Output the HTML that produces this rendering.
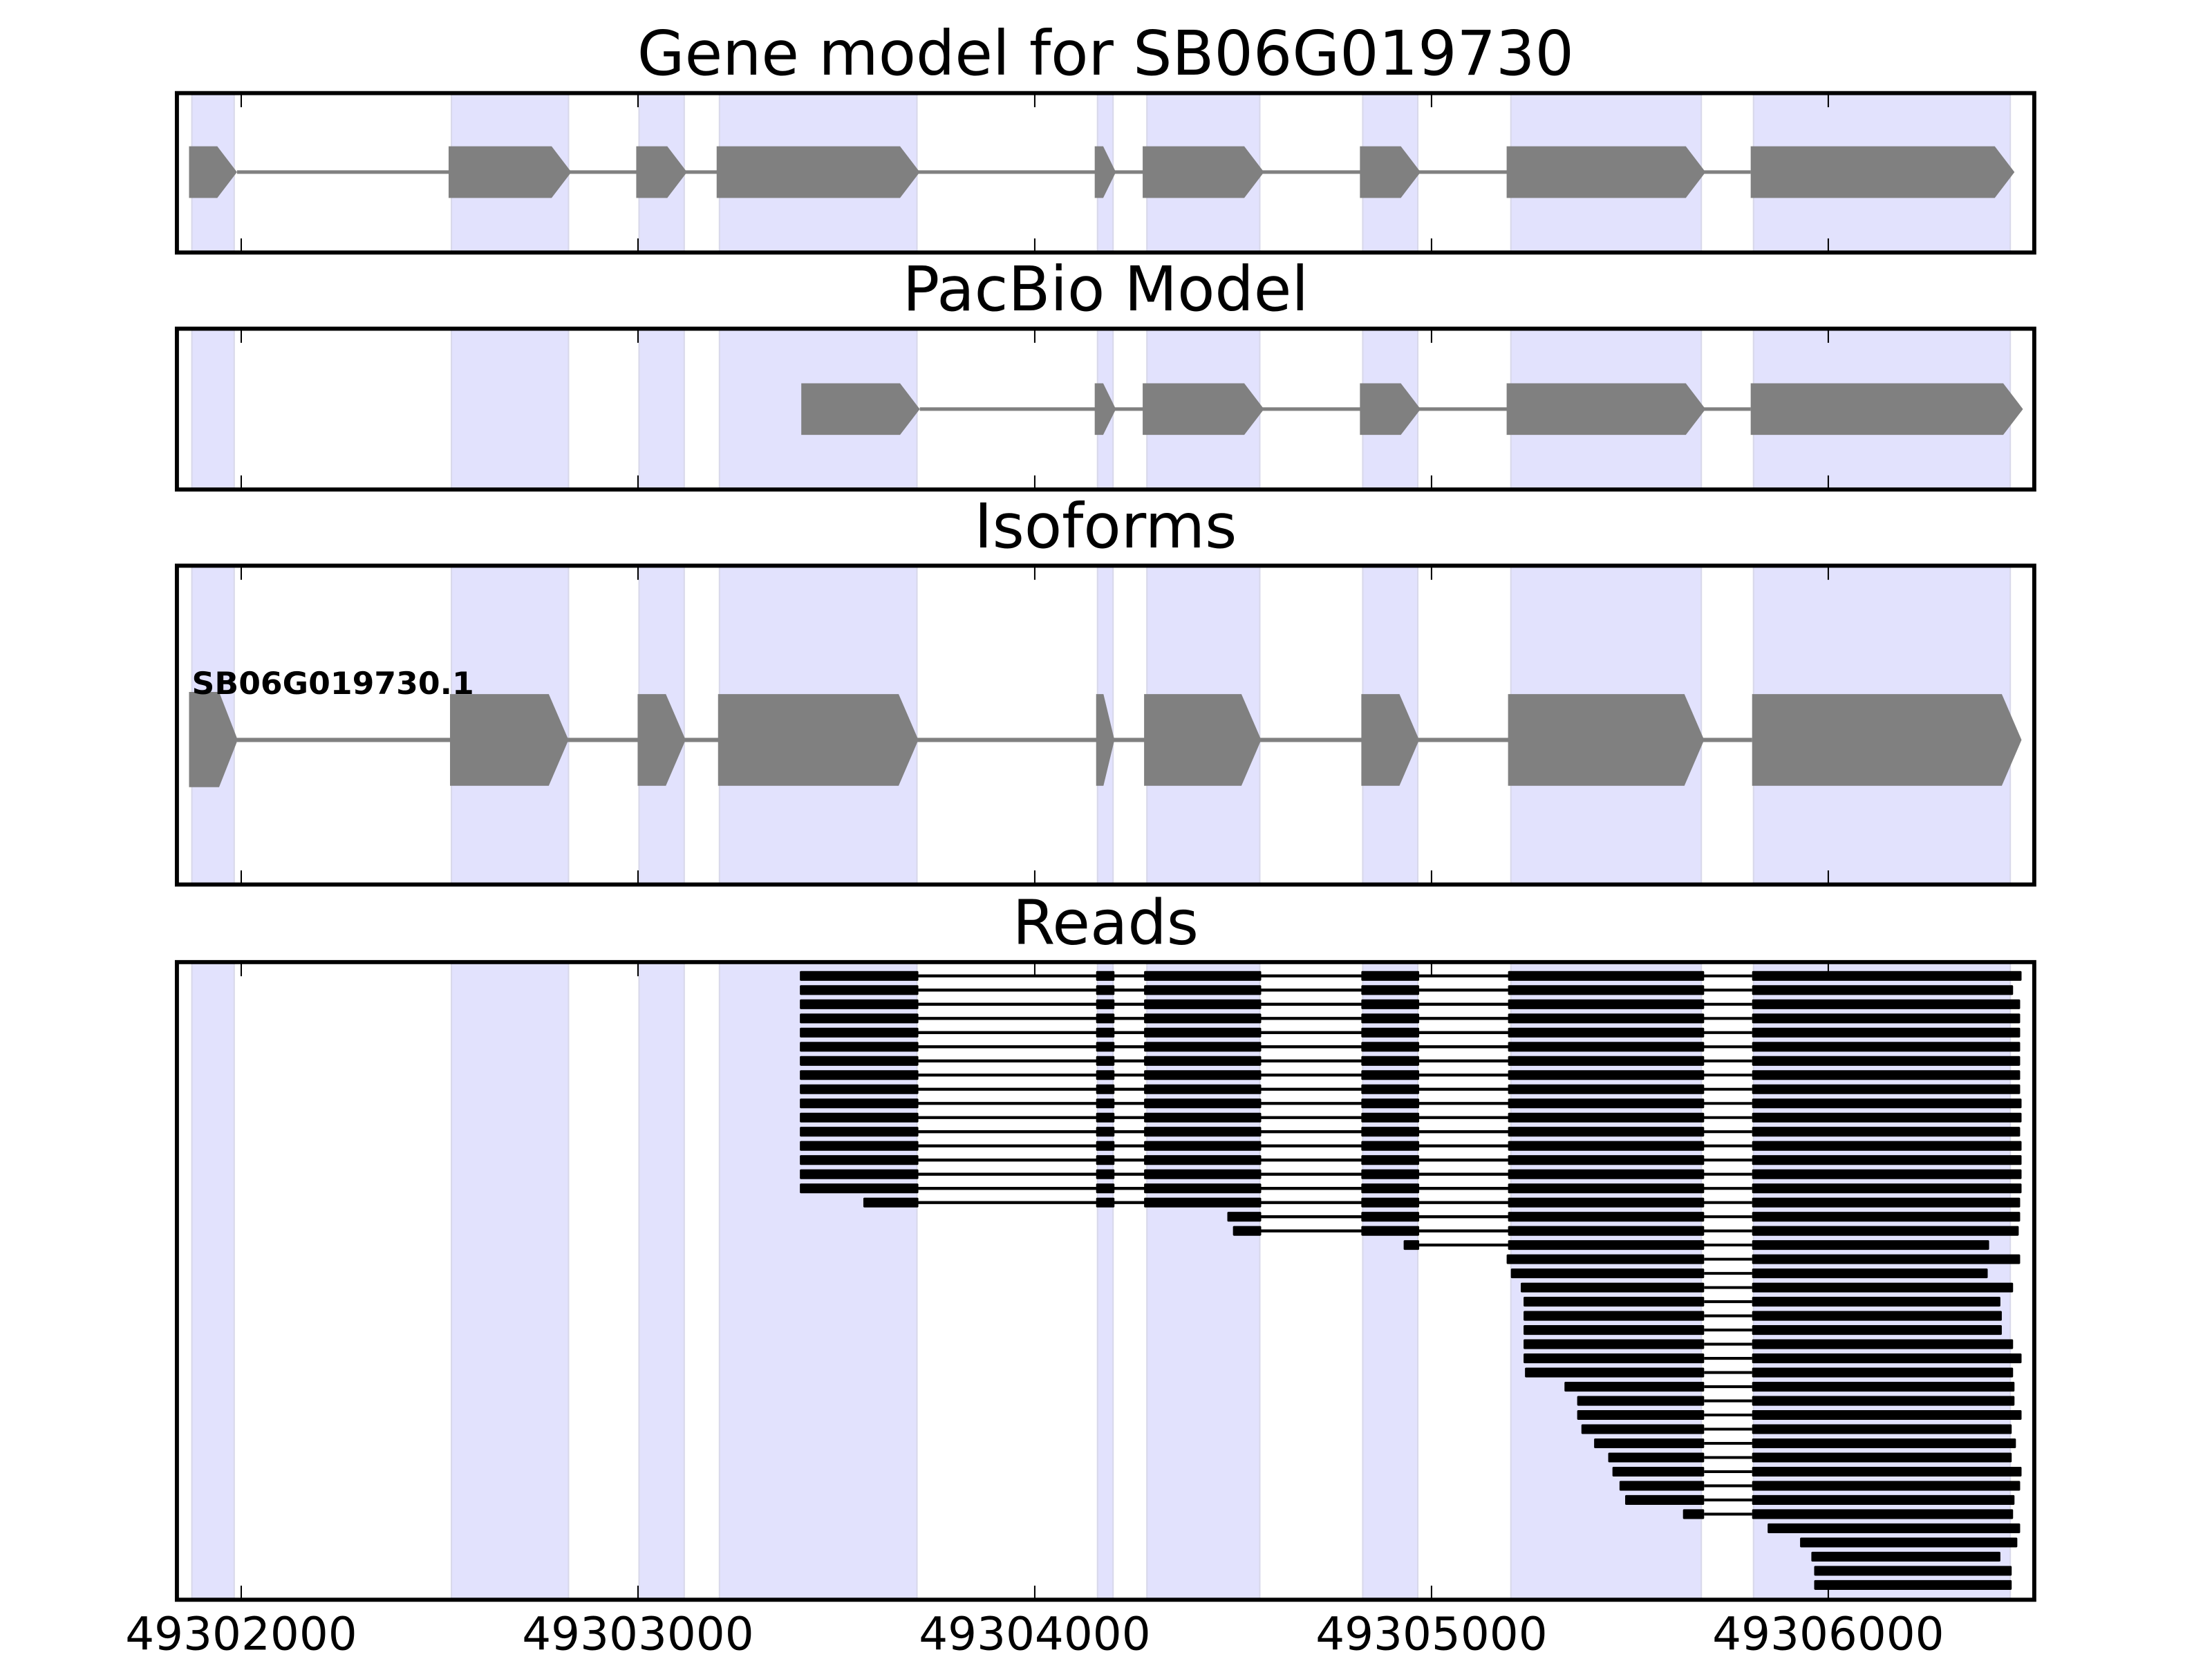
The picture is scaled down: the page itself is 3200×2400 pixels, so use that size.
<!DOCTYPE html>
<html><head><meta charset="utf-8"><style>
html,body{margin:0;padding:0;background:#fff;}
svg{display:block;}
</style></head><body>
<svg id="s" xmlns="http://www.w3.org/2000/svg" width="3200" height="2400" viewBox="0 0 1568 1176" font-family="DejaVu Sans, Liberation Sans, sans-serif">
<rect x="0" y="0" width="1568" height="1176" fill="#fff"/>
<g id="g"></g>
</svg>
<script>
var g=document.getElementById('g');var NS='http://www.w3.org/2000/svg';
function el(t,a,txt){var e=document.createElementNS(NS,t);for(var k in a)e.setAttribute(k,a[k]);if(txt)e.textContent=txt;g.appendChild(e);return e;}
var L=125.4,R=1442;
var panels=[[66,179,'Gene model for SB06G019730'],[233,347,'PacBio Model'],[401,627,'Isoforms'],[682,1134,'Reads']];
var shade=[[136,166],[320,403],[453,485],[510,650],[778,789],[813,893],[966,1005],[1071,1206],[1243,1425]];
var ticks=[171,452.25,733.5,1014.75,1296];
panels.forEach(function(p){
  shade.forEach(function(s){el('rect',{x:s[0],y:p[0],width:s[1]-s[0],height:p[1]-p[0],fill:'#e2e2fd',stroke:'#d8d8ea','stroke-width':1});});
});
function exon(x0,x1,yc,h,arrow,col){
  var a=arrow?Math.min(14,(x1-x0)*0.6):0;
  el('polygon',{points:[x0,yc-h,x1-a,yc-h,x1,yc,x1-a,yc+h,x0,yc+h].join(' '),fill:col||'#808080'});
}
function intron(x0,x1,yc,w,col){el('line',{x1:x0,y1:yc,x2:x1,y2:yc,stroke:col||'#808080','stroke-width':w||2.5});}
var gm=[[134,168],[318,405],[451,487],[508,652],[776,791],[810,896],[964,1007],[1068,1209],[1241,1428]];
intron(168,1241,122);gm.forEach(function(e){exon(e[0],e[1],122,18.3,true);});
var pb=[[568,652],[776,791],[810,896],[964,1007],[1068,1209],[1241,1434]];
intron(652,1241,290);pb.forEach(function(e){exon(e[0],e[1],290,18.3,true);});
var iso=[[319,403],[452,486],[509,651],[777,790],[811,894],[965,1006],[1069,1208],[1242,1433]];
intron(168,1242,524.5,3);
el('polygon',{points:'134,490.5 155.3,490.5 168.5,524.5 155.3,558 134,558',fill:'#808080'});
iso.forEach(function(e){exon(e[0],e[1],524.5,32.5,true);});
el('text',{x:136,y:492,'font-size':22,'font-weight':'bold',fill:'#000',textLength:200,lengthAdjust:'spacingAndGlyphs'},'SB06G019730.1');
var ends=[1433,1427,1432,1432,1432,1432,1432,1432,1432,1433,1433,1432,1433,1433,1433,1433,1432,1432,1431];
var ex=[[567,651],[777,790],[811,894],[965,1006],[1069,1208]];
var rows=[];
for(var i=0;i<16;i++)rows.push({s:567,e:ends[i],k:0});
rows.push({s:612,e:ends[16],k:0});
rows.push({s:870,e:ends[17],k:2});
rows.push({s:874,e:ends[18],k:2});
rows.push({s:995,e:1410,k:3});
var st=[[1068,1432],[1071,1409],[1078,1427],[1080,1418],[1080,1419],[1080,1419],[1080,1427],[1080,1433],[1081,1427],[1109,1428],[1118,1428],[1118,1433],[1121,1426],[1130,1429],[1140,1426],[1143,1433],[1148,1432],[1152,1428]];
st.forEach(function(a){rows.push({s:a[0],e:a[1],k:4});});
rows.push({s:1193,e:1427,k:4});
[[1253,1432],[1276,1430],[1284,1418],[1286,1426],[1286,1426]].forEach(function(a){rows.push({s:a[0],e:a[1],k:5});});
rows.forEach(function(r,i){
  var y=691.8+i*10.04,h=3.45;
  if(r.k<5){intron(Math.max(r.s,ex[r.k][1]),1242,y,2,'#000');}
  for(var k=r.k;k<5;k++){var a=(k==r.k)?r.s:ex[k][0];var b=ex[k][1];
    if(k>r.k){el('line',{x1:ex[k-1][1],y1:y,x2:a,y2:y,stroke:'#000','stroke-width':2});}
    el('rect',{x:a,y:y-h,width:b-a,height:2*h,fill:'#000',rx:0.8});}
  var a6=(r.k==5)?r.s:1242;
  el('rect',{x:a6,y:y-h,width:r.e-a6,height:2*h,fill:'#000',rx:0.8});
});
panels.forEach(function(p,i){
  el('rect',{x:L,y:p[0],width:R-L,height:p[1]-p[0],fill:'none',stroke:'#000','stroke-width':2.9});
  ticks.forEach(function(t){
    el('line',{x1:t,y1:p[0],x2:t,y2:p[0]+10,stroke:'#000','stroke-width':1});
    el('line',{x1:t,y1:p[1],x2:t,y2:p[1]-10,stroke:'#000','stroke-width':1});
  });
  el('text',{x:(L+R)/2,y:p[0]-13,'font-size':43.5,'text-anchor':'middle',fill:'#000'},p[2]);
});
var lab=['49302000','49303000','49304000','49305000','49306000'];
ticks.forEach(function(t,i){el('text',{x:t,y:1169.5,'font-size':32.3,'text-anchor':'middle',fill:'#000'},lab[i]);});
</script>
</body></html>
